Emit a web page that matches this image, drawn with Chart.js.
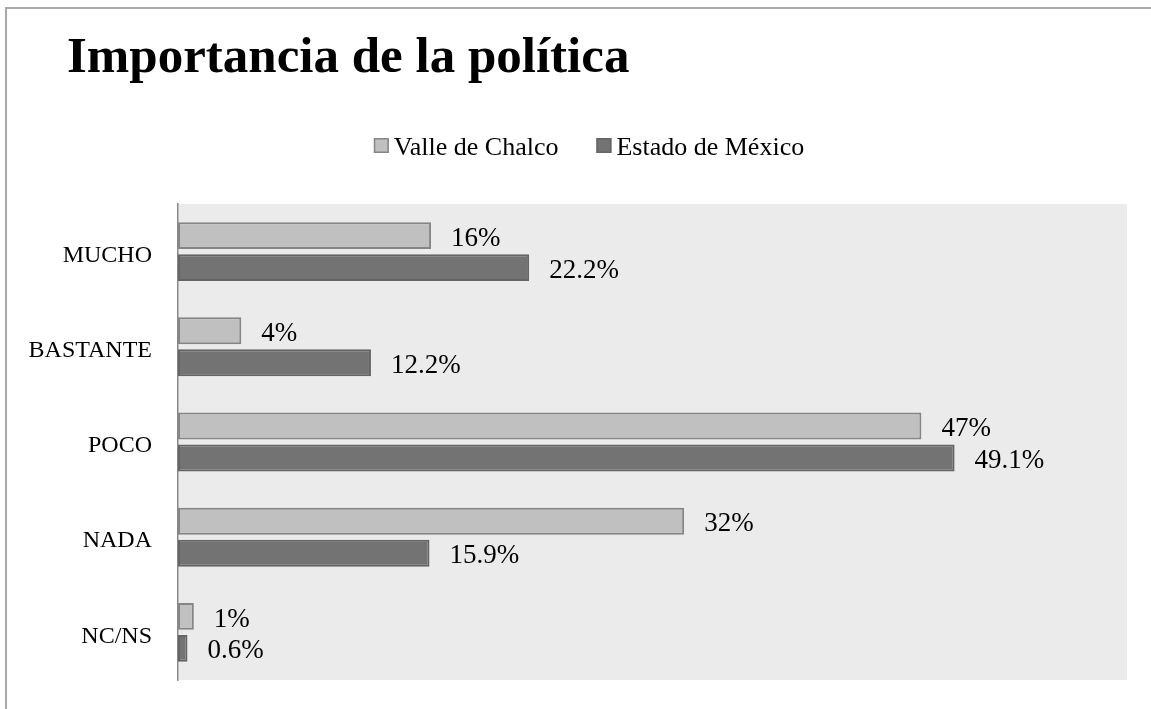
<!DOCTYPE html>
<html>
<head>
<meta charset="utf-8">
<script src="https://cdn.jsdelivr.net/npm/chart.js@4/dist/chart.umd.min.js"></script>
<style>
  html, body { margin: 0; padding: 0; background: #ffffff; overflow: hidden; }
  canvas { display: block; }
</style>
</head>
<body>
<canvas id="c" width="1151" height="709" style="width:1151px;height:709px;"></canvas>
<script>
const chartTitle = "Importancia de la política";
const categories = ["MUCHO", "BASTANTE", "POCO", "NADA", "NC/NS"];
const seriesNames = ["Valle de Chalco", "Estado de México"];
const valleDeChalco = [16, 4, 47, 32, 1];
const estadoDeMexico = [22.2, 12.2, 49.1, 15.9, 0.6];
const xMin = 0, xMax = 60;

const FONT = "'Liberation Serif', 'Times New Roman', serif";
const fills = ["#c0c0c0", "#737373"];
const borders = ["#858585", "#646464"];

const framePlugin = {
  id: 'frame',
  beforeDraw(chart) {
    const ctx = chart.ctx, a = chart.chartArea;
    ctx.save();
    ctx.fillStyle = '#ffffff';
    ctx.fillRect(0, 0, chart.width, chart.height);
    ctx.strokeStyle = '#a8a8a8';
    ctx.lineWidth = 2;
    ctx.strokeRect(6, 8, chart.width + 20, chart.height + 20);
    ctx.fillStyle = '#ebebeb';
    ctx.fillRect(a.left, a.top, a.right - a.left, a.bottom - a.top);
    ctx.restore();
  },
  afterDraw(chart) {
    const ctx = chart.ctx;
    ctx.save();
    ctx.fillStyle = '#000000';
    ctx.font = "bold 51px " + FONT;
    ctx.textBaseline = 'alphabetic';
    ctx.textAlign = 'left';
    ctx.fillText(chartTitle, 67, 72);
    ctx.font = "26px " + FONT;
    const box = 15, gapText = 5, gapItem = 38;
    const ds = chart.data.datasets;
    const widths = ds.map(d => box + gapText + ctx.measureText(d.label).width);
    const total = widths.reduce((s, w) => s + w, 0) + gapItem * (ds.length - 1);
    let x = 589 - total / 2;
    ds.forEach((d, i) => {
      ctx.fillStyle = d.backgroundColor;
      ctx.fillRect(x, 138, box, box);
      ctx.strokeStyle = d.borderColor;
      ctx.lineWidth = 1.5;
      ctx.strokeRect(x + 0.75, 138.75, box - 1.5, box - 1.5);
      ctx.fillStyle = '#000000';
      ctx.fillText(d.label, x + box + gapText, 155);
      x += widths[i] + gapItem;
    });
    ctx.restore();
  },
  afterDatasetsDraw(chart) {
    const ctx = chart.ctx;
    ctx.save();
    ctx.font = "27px " + FONT;
    ctx.fillStyle = '#000000';
    ctx.textBaseline = 'middle';
    ctx.textAlign = 'left';
    chart.data.datasets.forEach((d, i) => {
      const meta = chart.getDatasetMeta(i);
      meta.data.forEach((el, j) => {
        ctx.fillText(String(d.data[j]) + '%', el.x + 20, el.y + 3);
      });
    });
    ctx.restore();
  }
};

new Chart(document.getElementById('c'), {
  type: 'bar',
  data: {
    labels: categories,
    datasets: [
      { label: seriesNames[0], data: valleDeChalco, backgroundColor: fills[0], borderColor: borders[0], borderWidth: 2, borderSkipped: false },
      { label: seriesNames[1], data: estadoDeMexico, backgroundColor: fills[1], borderColor: borders[1], borderWidth: 2, borderSkipped: false }
    ]
  },
  options: {
    indexAxis: 'y',
    responsive: false,
    maintainAspectRatio: false,
    animation: false,
    categoryPercentage: 0.672,
    barPercentage: 0.84,
    layout: { padding: { top: 204, bottom: 29, right: 24, left: 0 } },
    plugins: {
      legend: { display: false },
      title: { display: false },
      tooltip: { enabled: false }
    },
    scales: {
      x: { display: false, min: xMin, max: xMax },
      y: {
        afterFit(scale) { scale.width = 178; scale.paddingTop = 0; scale.paddingBottom = 0; },
        grid: { display: false, drawTicks: false },
        border: { display: true, color: '#8a8a8a', width: 1.5 },
        ticks: { color: '#000000', font: { family: FONT, size: 24 }, padding: 26, labelOffset: 4 }
      }
    }
  },
  plugins: [framePlugin]
});
</script>
</body>
</html>
